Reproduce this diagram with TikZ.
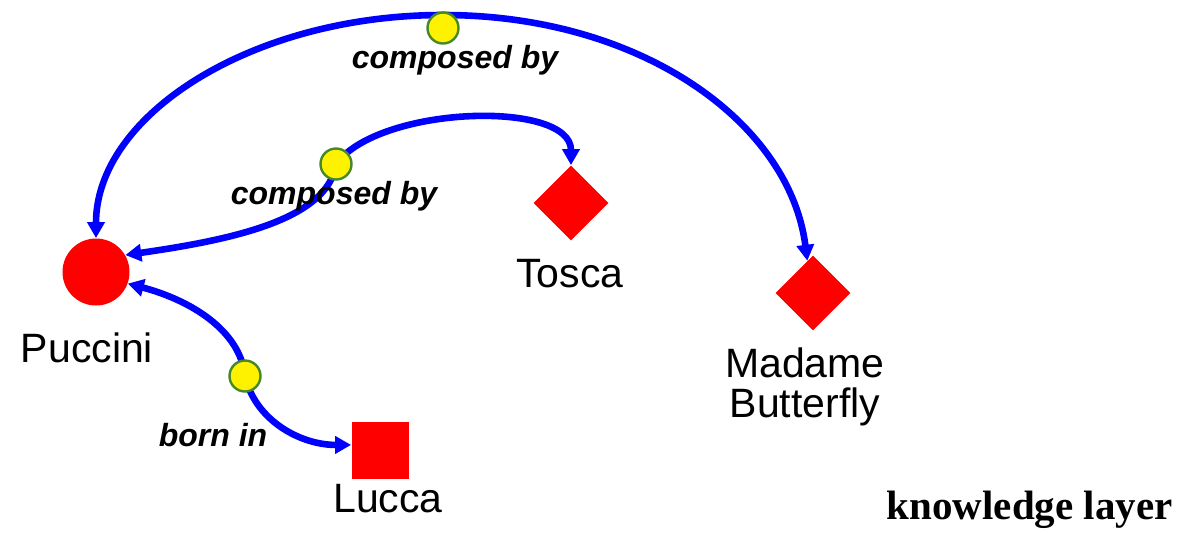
\documentclass[tikz,border=0pt]{standalone}
\usepackage{fontspec}
\setmainfont{Liberation Sans}
\newfontfamily\layerfont{Liberation Serif}
\usepackage{tikz}
\usetikzlibrary{arrows.meta,positioning,shapes.geometric}
\usepackage{xcolor}
\definecolor{dotgreen}{RGB}{70,135,40}
\pgfdeclarelayer{bg}
\pgfsetlayers{bg,main}

\begin{document}
\begin{tikzpicture}[x=0.5pt,y=-0.5pt,
	link/.style={draw=blue,line width=3.3pt,{Triangle[length=8pt,width=8.5pt]}-{Triangle[length=8pt,width=8.5pt]}}]
	\useasboundingbox (0,0) rectangle (1185,532);
	\begin{scope}[every node/.style={fill=red,inner sep=0pt}]
		\node[circle,minimum size=33.5pt] (puc) at (96,272) {};
		\node[diamond,minimum size=37.5pt] (tos) at (571,203) {};
		\node[diamond,minimum size=37.5pt] (mb) at (813,293) {};
		\node[minimum size=28.5pt] (luc) at (380,450) {};
	\end{scope}
	\begin{scope}[every node/.style={circle,fill=yellow,draw=dotgreen,line width=1.2pt,minimum size=15.5pt,inner sep=0pt}]
		\node (d1) at (443,28) {};
		\node (d2) at (336,164) {};
		\node (d3) at (245,376) {};
	\end{scope}
	\coordinate (top) at (443,15);
	\begin{pgfonlayer}{bg}
		\draw[link] (puc.north) .. controls (96,115) and (252,15) .. (top) .. controls (643,15) and (790,124) .. (mb.100);
		\draw[link] (puc.30) .. controls (230,240) and (328,220) .. (d2.center) .. controls (380,105) and (571,100) .. (tos.north);
		\draw[link] (puc.-20) .. controls (190,300) and (240,330) .. (d3.center) .. controls (255,420) and (300,445) .. (luc.170);
	\end{pgfonlayer}
	\begin{scope}[every node/.style={inner sep=0pt,anchor=base,font=\fontsize{20.5}{20}\selectfont}]
		\node (lpuc) at (87,362) {Puccini};
		\node (ltos) at (570,287) {Tosca};
		\node[align=center] (lmb) at (805,417) {Madame\\Butterfly};
		\node (lluc) at (388,512) {Lucca};
	\end{scope}
	\begin{scope}[every node/.style={inner sep=0pt,anchor=base,font=\bfseries\itshape\fontsize{16}{16}\selectfont}]
		\node (c1) at (455,68) {composed by};
		\node (c2) at (334,204) {composed by};
		\node (b1) at (213,446) {born in};
	\end{scope}
	\node[inner sep=0pt,anchor=base east,font=\layerfont\bfseries\fontsize{20.5}{20.5}\selectfont] (kl) at (1173,519) {knowledge layer};
\end{tikzpicture}
\end{document}
